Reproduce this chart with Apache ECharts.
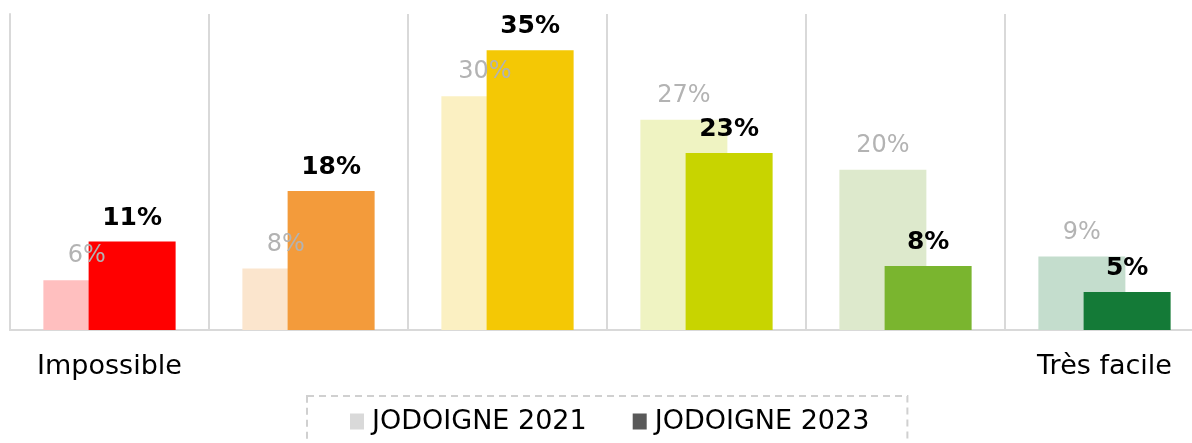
<!DOCTYPE html>
<html>
<head>
<meta charset="utf-8">
<script src="https://cdn.jsdelivr.net/npm/echarts@6/dist/echarts.min.js"></script>
<style>
  html, body { margin: 0; padding: 0; background: #fff; overflow: hidden; }
  /* the last category runs a little past the right edge of the picture */
  #main { width: 1204px; height: 443px; }
</style>
</head>
<body>
<div id="main"></div>
<script>
// categories (only the two ends carry a label)
var categories = ['Impossible', '', '', '', '', 'Très facile'];

var values2021 = [6.3, 7.8, 29.6, 26.6, 20.3, 9.3];
var values2023 = [11.2, 17.6, 35.4, 22.4, 8.1, 4.8];
var labels2021 = ['6%', '8%', '30%', '27%', '20%', '9%'];
var labels2023 = ['11%', '18%', '35%', '23%', '8%', '5%'];

// colours per category
var colors2021 = ['#ffbfbf', '#fbe5cd', '#fbf0c2', '#eff3c2', '#dde9cc', '#c4ddcd'];
var colors2023 = ['#ff0000', '#f39b3b', '#f4c805', '#c8d400', '#7ab52f', '#147a37'];

var myChart = echarts.init(document.getElementById('main'));

var option = {
    animation: false,
    grid: {
        left: 10,
        right: 0,
        top: 14,
        height: 316
    },
    legend: {
        top: 396,
        left: 307,
        padding: [12, 38, 30, 43],
        borderColor: '#d0d0d0',
        borderWidth: 2,
        borderType: [7, 5],
        itemWidth: 14,
        itemHeight: 16,
        itemGap: 46,
        icon: 'rect',
        textStyle: {
            fontFamily: 'DejaVu Sans',
            fontSize: 27,
            color: '#000',
            padding: [0, 0, 0, 3]
        },
        data: [
            { name: 'JODOIGNE 2021', itemStyle: { color: '#d9d9d9' } },
            { name: 'JODOIGNE 2023', itemStyle: { color: '#595959' } }
        ]
    },
    xAxis: {
        type: 'category',
        data: categories,
        axisTick: { show: false },
        axisLine: { lineStyle: { color: '#d9d9d9', width: 2 } },
        splitLine: { show: true, lineStyle: { color: '#d9d9d9', width: 2 } },
        axisLabel: {
            margin: 23,
            fontFamily: 'DejaVu Sans',
            fontSize: 27,
            color: '#000'
        }
    },
    yAxis: {
        type: 'value',
        min: 0,
        max: 40,
        axisLine: { show: true, lineStyle: { color: '#d9d9d9', width: 2 } },
        axisLabel: { show: false },
        axisTick: { show: false },
        splitLine: { show: false }
    },
    series: [
        {
            name: 'JODOIGNE 2021',
            type: 'bar',
            barWidth: 87,
            barGap: '-48%',
            itemStyle: { color: '#d9d9d9' },
            data: values2021.map(function (v, i) {
                return { value: v, itemStyle: { color: colors2021[i] } };
            }),
            label: {
                show: true,
                position: 'top',
                distance: 12,
                fontFamily: 'DejaVu Sans',
                fontSize: 24,
                color: '#b3b3b3',
                formatter: function (p) { return labels2021[p.dataIndex]; }
            }
        },
        {
            name: 'JODOIGNE 2023',
            type: 'bar',
            barWidth: 87,
            barGap: '-48%',
            itemStyle: { color: '#595959' },
            data: values2023.map(function (v, i) {
                return { value: v, itemStyle: { color: colors2023[i] } };
            }),
            label: {
                show: true,
                position: 'top',
                distance: 11,
                fontFamily: 'DejaVu Sans',
                fontWeight: 'bold',
                fontSize: 25,
                color: '#000',
                formatter: function (p) { return labels2023[p.dataIndex]; }
            }
        }
    ]
};
myChart.setOption(option);
</script>
</body>
</html>
